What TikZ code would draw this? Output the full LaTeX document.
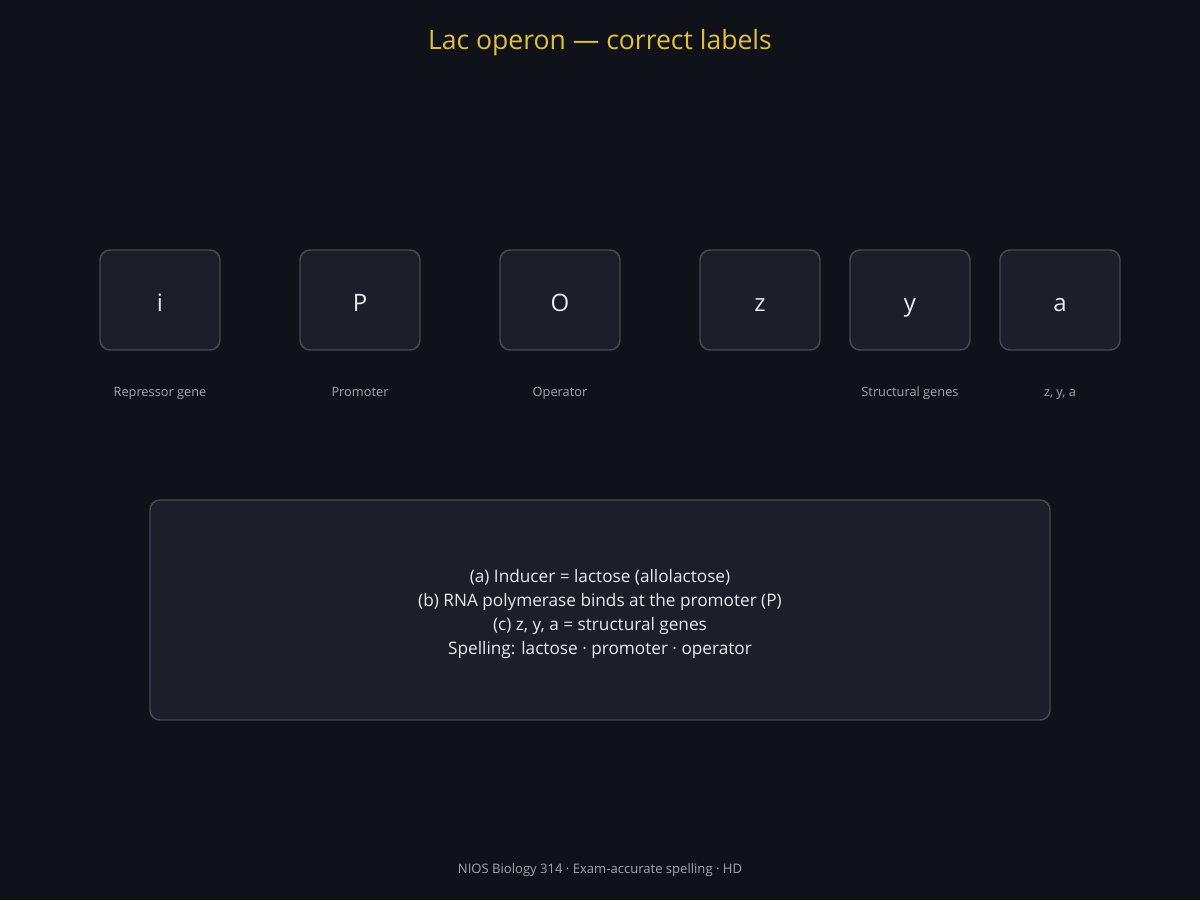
\documentclass[tikz,border=0pt]{standalone}
\usepackage{fontspec}
\setmainfont{Open Sans}
\definecolor{bg}{HTML}{0F1218}
\definecolor{boxfill}{HTML}{1C1F2A}
\definecolor{boxline}{HTML}{434958}
\definecolor{titlecol}{HTML}{E3BE3E}
\definecolor{labcol}{HTML}{A0A5AF}
\definecolor{textcol}{HTML}{E8EAF0}
\begin{document}
\begin{tikzpicture}[x=0.75pt,y=-0.75pt,
  genebox/.style={draw=boxline,line width=1.1pt,fill=boxfill,rounded corners=7.5pt,minimum width=90pt,minimum height=75pt,inner sep=0pt},
  geneletter/.style={text=textcol,font=\fontsize{18}{22}\selectfont,inner sep=0pt},
  genelab/.style={text=labcol,font=\fontsize{9.6}{12}\selectfont,inner sep=0pt},
  notebox/.style={draw=boxline,line width=1.1pt,fill=boxfill,rounded corners=7.5pt,minimum width=675pt,minimum height=165pt,inner sep=0pt},
  notetext/.style={text=textcol,font=\fontsize{12.9}{18}\selectfont,align=center,inner sep=0pt}]
\fill[bg] (0,0) rectangle (1200,900);
\useasboundingbox (0,0) rectangle (1200,900);
\node[text=titlecol,font=\fontsize{19.9}{24}\selectfont,inner sep=0pt] (title) at (600,43) {Lac operon — correct labels};
\node[genebox] (i) at (160,300) {};
\node[genebox] (P) at (360,300) {};
\node[genebox] (O) at (560,300) {};
\node[genebox] (z) at (760,300) {};
\node[genebox] (y) at (910,300) {};
\node[genebox] (a) at (1060,300) {};
\node[geneletter,anchor=base] (ti) at (160,311) {i};
\node[geneletter,anchor=base] (tP) at (360,311) {P};
\node[geneletter,anchor=base] (tO) at (560,311) {O};
\node[geneletter,anchor=base] (tz) at (760,311) {z};
\node[geneletter,anchor=base] (ty) at (910,311) {y};
\node[geneletter,anchor=base] (ta) at (1060,311) {a};
\node[genelab,anchor=base] (li) at (160,396) {Repressor gene};
\node[genelab,anchor=base] (lP) at (360,396) {Promoter};
\node[genelab,anchor=base] (lO) at (560,396) {Operator};
\node[genelab,anchor=base] (ly) at (910,396) {Structural genes};
\node[genelab,anchor=base] (la) at (1060,396) {z, y, a};
\node[notebox] (notes) at (600,610) {};
\node[notetext] (nt) at (600,614) {(a) Inducer = lactose (allolactose)\\(b) RNA polymerase binds at the promoter (P)\\(c) z, y, a = structural genes\\Spelling: lactose · promoter · operator};
\node[text=labcol,font=\fontsize{9.8}{12}\selectfont,inner sep=0pt,anchor=base] (foot) at (600,873) {NIOS Biology 314 · Exam-accurate spelling · HD};
\end{tikzpicture}
\end{document}
